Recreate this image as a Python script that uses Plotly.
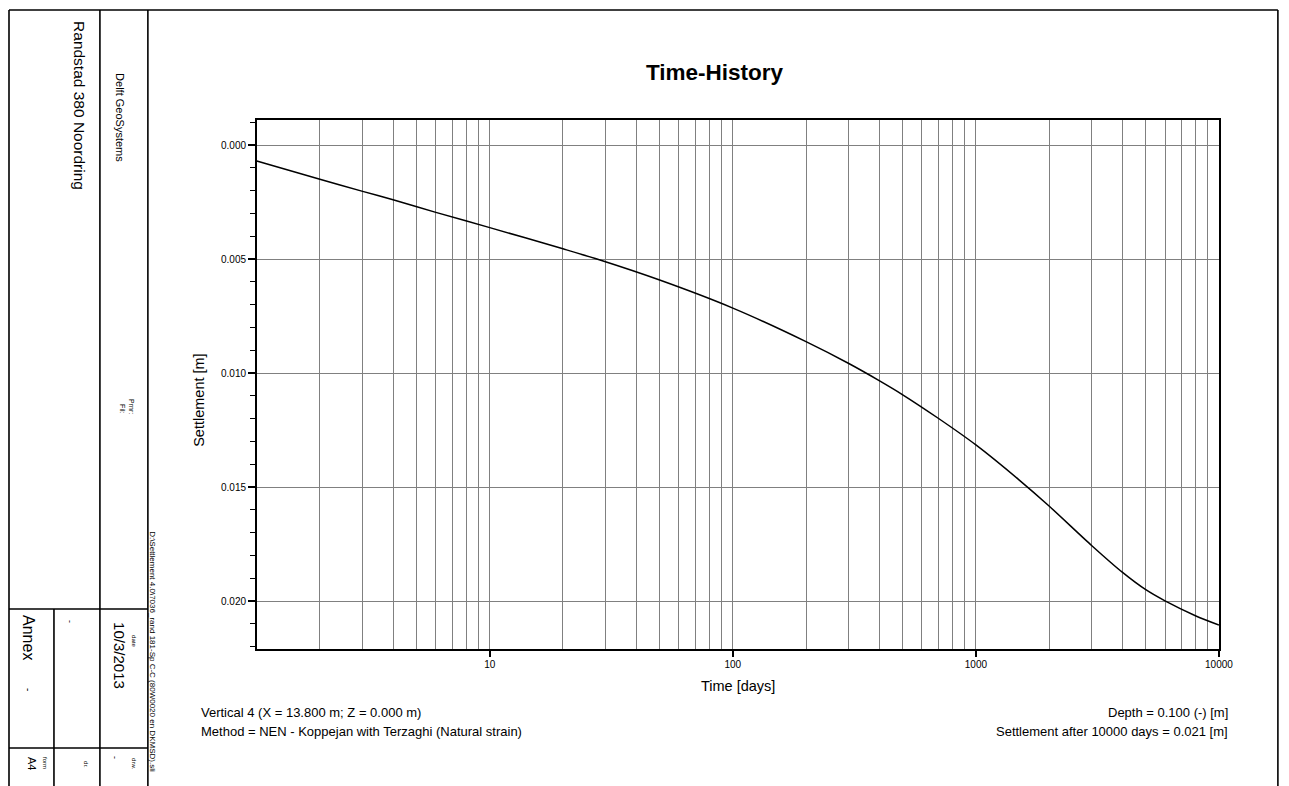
import plotly.graph_objects as go

# ---- data ----
time_days = [1.1, 2, 3, 4, 6, 10, 20, 28, 50, 100, 200, 300, 400, 500, 700,
             1000, 1500, 2000, 3000, 4000, 5000, 6000, 8000, 10000]
settlement = [0.0007, 0.0015, 0.00203, 0.0024, 0.00295, 0.00362, 0.00455, 0.00502,
              0.00592, 0.00715, 0.00862, 0.00958, 0.01033, 0.01095, 0.01198, 0.01315,
              0.01467, 0.01583, 0.01757, 0.01873, 0.0195, 0.01999, 0.02064, 0.02105]

x_major = [10, 100, 1000, 10000]
x_major_labels = ["10", "100", "1000", "10000"]
x_grid = [m * d for d in [1, 10, 100, 1000] for m in range(1, 10)] + [10000]
y_major = [0.000, 0.005, 0.010, 0.015, 0.020]

# mapping from reference pixel coordinates to paper coordinates
OFF = 8
SX = 0.99
W, H = 1289, 786 - OFF
def px(x): return ((x - OFF) / SX) / W
def py(y): return 1 - (y - OFF) / H

FONT = "Liberation Sans, Arial, sans-serif"

fig = go.Figure()
fig.add_trace(go.Scatter(x=time_days, y=settlement, mode="lines",
                         line=dict(color="black", width=1.5, shape="spline", smoothing=0.8),
                         showlegend=False, hoverinfo="x+y"))
fig.add_trace(go.Scatter(x=[10], y=[0.01], xaxis="x2", yaxis="y", mode="markers",
                         marker=dict(opacity=0), showlegend=False, hoverinfo="skip"))

grid_text = [x_major_labels[x_major.index(v)] if v in x_major else "" for v in x_grid]

xr = [0.0414, 4.0]
fig.update_layout(
    width=W, height=H, margin=dict(l=0, r=0, t=0, b=0),
    paper_bgcolor="white", plot_bgcolor="white",
    font=dict(family=FONT, color="black"),
    xaxis=dict(type="log", range=xr, domain=[px(257), px(1220)],
               tickmode="array", tickvals=x_grid, ticktext=grid_text,
               ticks="", showgrid=True, gridcolor="#808080", gridwidth=1,
               showline=True, linecolor="black", linewidth=1.5, mirror=True,
               tickfont=dict(size=10), zeroline=False, ticklabelstandoff=5),
    xaxis2=dict(type="log", range=xr, domain=[px(257), px(1220)], overlaying="x",
                anchor="y", side="bottom", tickmode="array", tickvals=x_major,
                ticktext=["" for _ in x_major], ticks="outside", ticklen=7,
                tickcolor="black", tickwidth=1.5, showgrid=False, showline=False,
                zeroline=False),
    yaxis=dict(range=[0.0221, -0.0011], autorange=False, domain=[py(649), py(120)],
               tickmode="array", tickvals=y_major, tickformat=".3f",
               ticks="outside", ticklen=7, tickcolor="black", tickwidth=1.5,
               showgrid=True, gridcolor="#808080", gridwidth=1,
               showline=True, linecolor="black", linewidth=1.5, mirror=True,
               zeroline=False, tickfont=dict(size=10),
               minor=dict(dtick=0.001, tick0=0, ticks="outside", ticklen=5,
                          tickcolor="black", tickwidth=1.2, showgrid=False)),
)

shapes = []
def line(x0, y0, x1, y1, w=1.6):
    shapes.append(dict(type="line", xref="paper", yref="paper",
                       x0=px(x0), y0=py(y0), x1=px(x1), y1=py(y1),
                       line=dict(color="black", width=w)))
line(9, 10, 1279, 10)
line(1279, 10, 1279, 786)
line(9, 10, 9, 786)
line(100, 10, 100, 786)
line(148, 10, 148, 786)
line(9, 609, 148, 609)
line(9, 748, 148, 748)
line(54, 609, 54, 786)
fig.update_layout(shapes=shapes)

ann = []
def text(t, x, y, size, angle=0, xanchor="center", yanchor="middle", bold=False):
    if bold:
        t = "<b>" + t + "</b>"
    ann.append(dict(text=t, x=px(x), y=py(y), xref="paper", yref="paper",
                    showarrow=False, textangle=angle, xanchor=xanchor,
                    yanchor=yanchor, font=dict(size=size, family=FONT, color="black")))

text("Time-History", 716, 72, 22.5, bold=True)
text("Time [days]", 739, 686, 14.5)
text("Settlement [m]", 199, 400, 14.5, angle=-90)
text("Vertical 4 (X = 13.800 m; Z = 0.000 m)", 199, 712, 13, xanchor="left")
text("Method = NEN - Koppejan with Terzaghi (Natural strain)", 199, 731, 13, xanchor="left")
text("Depth = 0.100 (-) [m]", 1231, 712, 13, xanchor="right")
text("Settlement after 10000 days = 0.021 [m]", 1231, 731, 13, xanchor="right")

# left title block (rotated)
text("Randstad 380 Noordring", 80, 106, 15.5, angle=90)
text("Delft GeoSystems", 120, 118, 11, angle=90)
text("Prnr:", 132, 407, 7, angle=90)
text("Fil:", 123, 409, 7, angle=90)
text("D:\\Settlement 4.0\\7036_rand 181-Sp C-C (80W0020 en DKMSD).sli", 153, 652, 8, angle=90)
text("date", 134, 641, 6, angle=90)
text("10/3/2013", 120, 656, 15, angle=90)
text("drw.", 134, 764, 6, angle=90)
text("-", 115, 758, 9, angle=90)
text("-", 70, 622, 9, angle=90)
text("dr.", 86, 765, 6, angle=90)
text("Annex", 29, 638, 16, angle=90)
text("-", 29, 690, 10, angle=90)
text("form", 45, 763, 6, angle=90)
text("A4", 32, 764, 11, angle=90)
fig.update_layout(annotations=ann)

fig.write_html("out.html")
